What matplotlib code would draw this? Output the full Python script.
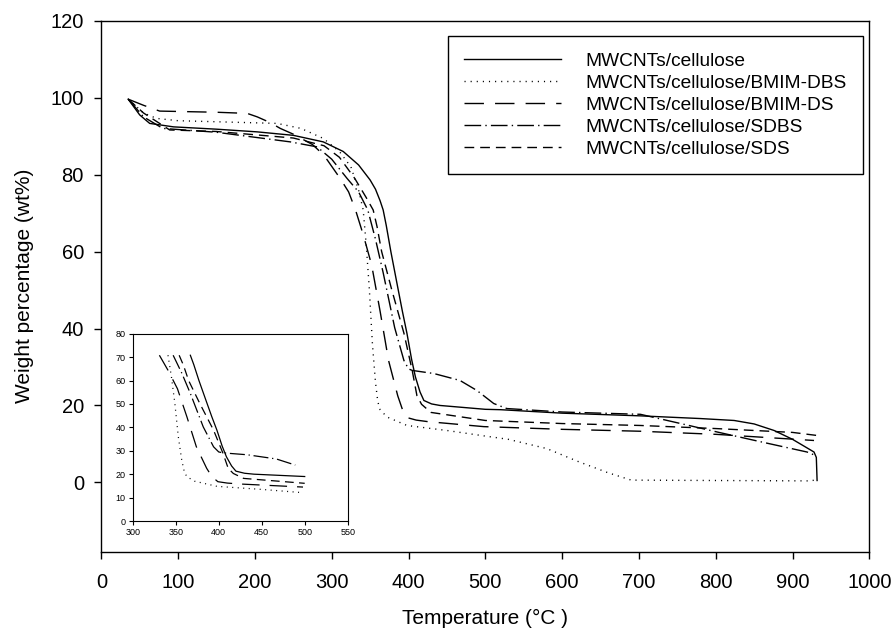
import matplotlib
matplotlib.use("Agg")
import matplotlib.pyplot as plt
import numpy as np

plt.rcParams['font.family'] = ['Liberation Sans', 'DejaVu Sans']

# ---- data (temperature in °C, weight %) ----
labels = ["MWCNTs/cellulose", "MWCNTs/cellulose/BMIM-DBS", "MWCNTs/cellulose/BMIM-DS",
          "MWCNTs/cellulose/SDBS", "MWCNTs/cellulose/SDS"]

t_cell = [35, 50, 63, 94, 150, 203, 250, 289, 315, 335, 350, 357, 363, 367, 371, 377, 385, 392,
          398, 404, 409, 415, 420, 430, 441, 500, 520, 600, 702, 780, 824, 850, 876, 900, 928,
          931, 932]
w_cell = [99.6, 95.5, 93.3, 92.4, 91.8, 91.1, 90.2, 88.5, 86.0, 82.5, 78.6, 76.2, 73.2, 70.8,
          66.8, 60, 51.7, 44.5, 38.7, 32, 27.4, 23.5, 21.3, 20.4, 20.0, 19.0, 18.9, 18.0, 17.3,
          16.6, 16.1, 15.2, 13.5, 11.2, 7.9, 6.5, 0.5]

t_bdbs = [35, 55, 72, 100, 229, 260, 289, 310, 325, 335, 341, 345, 349, 353, 357, 360, 363, 372,
          398, 450, 498, 530, 580, 620, 660, 690, 800, 920, 930]
w_bdbs = [99.6, 96, 94.6, 94.0, 93.3, 92, 89.4, 86, 82, 76, 70.8, 61.6, 50.2, 36, 26, 21, 18.9,
          17, 14.8, 13.5, 12.1, 11.2, 8.8, 5.5, 2.5, 0.6, 0.5, 0.4, 0.6]

t_bds = [35, 55, 76, 150, 190, 203, 220, 233, 250, 275, 290, 311, 322, 331, 341, 352, 363, 374,
         386, 392, 399, 410, 425, 498, 600, 702, 800, 928]
w_bds = [99.6, 98, 96.5, 96.2, 95.9, 95, 93.5, 92, 90.5, 87.8, 85, 79, 75.5, 70.8, 64.4, 56.5,
         44.5, 31.7, 22.5, 19, 16.8, 16.2, 15.8, 14.5, 13.8, 13.3, 12.5, 10.9]

t_sdbs = [35, 55, 80, 150, 246, 281, 300, 320, 335, 347, 357, 367, 382, 394, 400, 405, 433, 467,
          489, 511, 528, 600, 702, 750, 802, 860, 919, 930]
w_sdbs = [99.6, 95, 92, 91, 88.5, 87.2, 84, 79, 75.5, 70.8, 63.2, 54.5, 40.2, 31.7, 29.5, 29.1,
          28.3, 26.5, 23.9, 20.5, 19.2, 18.3, 17.7, 15.5, 13.1, 10.5, 7.9, 7.0]

t_sds = [35, 55, 89, 150, 250, 290, 310, 330, 345, 354, 359, 365, 378, 394, 405, 411, 417, 429,
         500, 600, 702, 800, 900, 932]
w_sds = [99.6, 96, 91.6, 91.2, 89.5, 87.5, 84.5, 79, 74, 70.8, 66.5, 60, 50.2, 38.8, 28.9, 22.5,
         20.3, 18.2, 16.1, 15.3, 14.8, 14.0, 13.0, 12.2]

series = [(t_cell, w_cell), (t_bdbs, w_bdbs), (t_bds, w_bds), (t_sdbs, w_sdbs), (t_sds, w_sds)]
styles = ['-', (0, (0.8, 3.6)), (0, (14, 8)), (0, (12, 3, 1, 3)), (0, (7, 4.3))]

x_ticks = list(range(0, 1001, 100))
y_ticks = list(range(0, 121, 20))
inset_x_ticks = list(range(300, 551, 50))
inset_y_ticks = list(range(0, 81, 10))

fig = plt.figure(figsize=(8.95, 6.3), dpi=100)
ax = fig.add_axes([0.1132, 0.1243, 0.8581, 0.8429])

for (t, w), ls, lab in zip(series, styles, labels):
    ax.plot(t, w, color='black', lw=1.0, linestyle=ls, label=lab)

ax.set_xlim(0, 1000)
ax.set_ylim(-18, 120)
ax.set_xticks(x_ticks)
ax.set_yticks(y_ticks)
ax.tick_params(direction='out', length=5, width=1, labelsize=14.5)
ax.tick_params(axis='x', pad=10.5)
ax.tick_params(axis='y', pad=7.5)
for s in ax.spines.values():
    s.set_linewidth(1.0)
ax.set_xlabel("Temperature (°C )", fontsize=15)
ax.set_ylabel("Weight percentage (wt%)", fontsize=15)
ax.xaxis.set_label_coords(0.5, -0.107)
ax.yaxis.set_label_coords(-0.087, 0.5)

leg = ax.legend(loc='upper right', bbox_to_anchor=(0.9645, 1 - 36 / 630),
                bbox_transform=fig.transFigure, fontsize=13.8, frameon=True,
                fancybox=False, edgecolor='black', framealpha=1,
                handlelength=5.05, handletextpad=1.3, labelspacing=0.24,
                borderpad=0.85, borderaxespad=0)
leg.get_frame().set_linewidth(1.0)

# ---- inset ----
axin = fig.add_axes([0.1483, 0.1730, 0.2402, 0.2973])
for (t, w), ls in zip(series, styles):
    t = np.asarray(t, float)
    w = np.asarray(w, float)
    m = (w <= 71) & (t <= 503)
    axin.plot(t[m], w[m], color='black', lw=0.9, linestyle=ls)
axin.set_xlim(300, 550)
axin.set_ylim(0, 80)
axin.set_xticks(inset_x_ticks)
axin.set_yticks(inset_y_ticks)
axin.tick_params(direction='out', length=3, width=0.8, labelsize=6.5, pad=2)
for s in axin.spines.values():
    s.set_linewidth(0.8)

fig.savefig("out.png", dpi=100)
